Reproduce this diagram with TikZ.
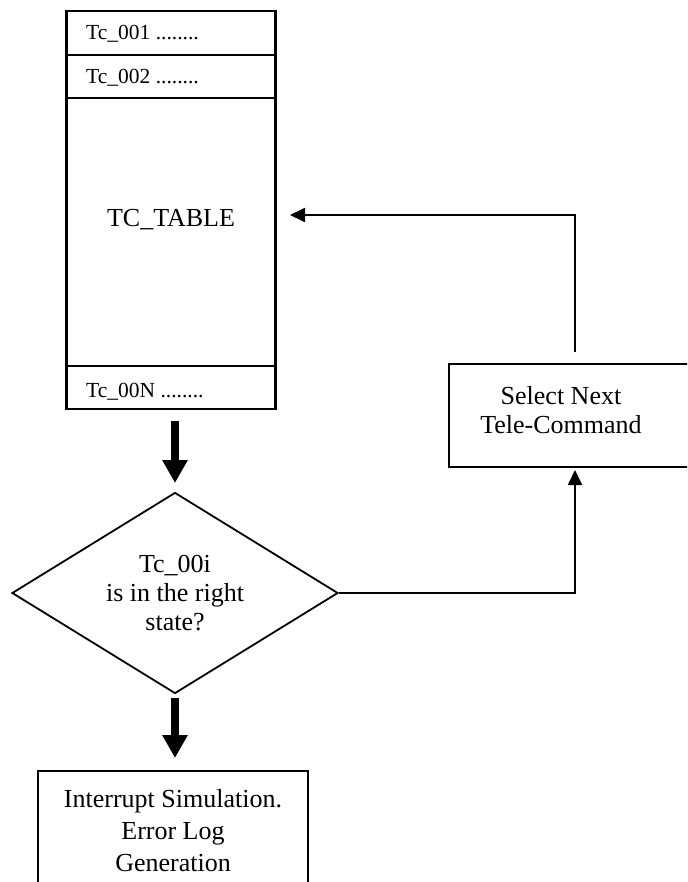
\documentclass[tikz,border=0pt]{standalone}
\usepackage{fontspec}
\setmainfont{Liberation Serif}
\usetikzlibrary{arrows.meta,calc,positioning,shapes.geometric}
\tikzset{%
	tablebox/.style = {draw, rectangle, line width=2.5pt, minimum width=209pt, minimum height=398pt, inner sep=0pt},
	rowtext/.style  = {anchor=base west, inner sep=0pt, font=\fontsize{21.5}{24}\selectfont},
	process/.style  = {draw, rectangle, line width=1.8pt, inner sep=0pt},
	bodytext/.style = {align=center, inner sep=0pt, font=\fontsize{26}{29}\selectfont},
	decision/.style = {draw, diamond, aspect=1.6, line width=1.8pt, minimum width=326pt, minimum height=201pt, inner sep=0pt, align=center, font=\fontsize{26}{29}\selectfont},
	arrow/.style    = {line width=1.8pt, -{Triangle[width=14pt,length=15pt]}},
	bigarrow/.style = {line width=8pt, -{Triangle[width=24pt,length=23pt]}},
}
\begin{document}
\begin{tikzpicture}[x=1pt,y=-1pt]
		\clip (0,0) rectangle (687,882);
		\fill[white] (0,0) rectangle (687,882);
		
		% table of tele-commands
		\node[tablebox] (tbl) at (171,210) {};
		\foreach \y in {55,98,366} \draw[line width=1.8pt] (tbl.west |- 0,\y) -- (tbl.east |- 0,\y);
		\node[rowtext] (row1) at (86,40) {Tc\_001 ........};
		\node[rowtext] (row2) at (86,84) {Tc\_002 ........};
		\node[rowtext] (rowN) at (86,397) {Tc\_00N ........};
		\node[bodytext] (tbltitle) at (171,220) {TC\_TABLE};
		
		\node[decision] (dec) at (175,593) {Tc\_00i\\is in the right\\state?};
		
		\node[process, minimum width=270pt, minimum height=122pt, anchor=north] (err) at (173,770) {};
		\node[bodytext, font=\fontsize{26}{32}\selectfont] (errtext) at (173,831) {Interrupt Simulation.\\Error Log\\Generation};
		
		\node[process, minimum width=260pt, minimum height=103pt, anchor=north west] (sel) at (448,363) {};
		\node[bodytext] (seltext) at (561,410) {Select Next\\Tele-Command};
		
		% connectors
		\coordinate (tbltip) at (290,215);
		\coordinate (selup) at (575,352);
		\coordinate (seltip) at (575,470);
		\coordinate (dectip) at (175,483);
		\coordinate (errtip) at (175,758);
		\draw[bigarrow] (175,421) -- (dectip);
		\draw[bigarrow] (dec.south |- 0,698) -- (errtip);
		\draw[arrow] (dec.east) -| (seltip);
		\draw[arrow] (selup) |- (tbltip);
	\end{tikzpicture}
\end{document}
